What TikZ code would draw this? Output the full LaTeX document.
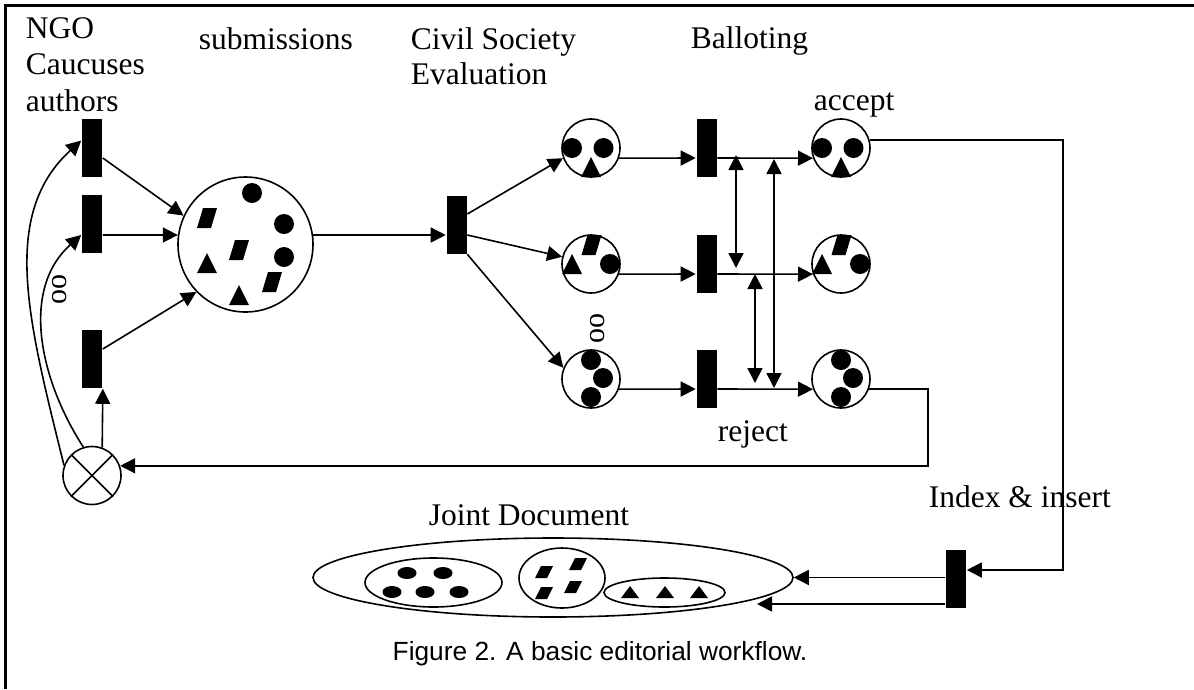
\documentclass[tikz,border=0pt]{standalone}
\usepackage{fontspec}
\setmainfont{Liberation Serif}
\newfontfamily\capfont{Liberation Sans}
\usetikzlibrary{arrows.meta,calc,shapes.geometric}
\newcommand\tokdot[2]{\fill (#1,#2) circle[radius=10pt];}
\newcommand\toktri[2]{\fill (#1-10,#2+10) -- (#1+10,#2+10) -- (#1,#2-10) -- cycle;}
\newcommand\tokpara[2]{\fill (#1-4,#2-10) -- (#1+10,#2-10) -- (#1+4,#2+10) -- (#1-10,#2+10) -- cycle;}
\newcommand\sdot[2]{\fill (#1,#2) ellipse[x radius=9.5pt,y radius=6pt];}
\newcommand\stri[2]{\fill (#1-9,#2+6) -- (#1+9,#2+6) -- (#1,#2-6) -- cycle;}
\newcommand\spara[2]{\fill (#1-3,#2-6) -- (#1+9,#2-6) -- (#1+3,#2+6) -- (#1-9,#2+6) -- cycle;}
\begin{document}
\begin{tikzpicture}[x=1pt,y=-1pt,line width=1.6pt,
  arr/.style={-{Triangle[length=15pt,width=15pt]}},
  darr/.style={{Triangle[length=15pt,width=15pt]}-{Triangle[length=15pt,width=15pt]}},
  bar/.style={rectangle,fill=black,draw=none,minimum width=20pt,minimum height=58pt,inner sep=0pt},
  place/.style={circle,draw,minimum size=58pt,inner sep=0pt},
  lbl/.style={font=\fontsize{31.5}{37}\selectfont,inner sep=0pt,anchor=base west},
  dots/.style={font=\fontsize{30}{30}\selectfont,inner sep=0pt,rotate=90}]
\useasboundingbox (0,0) rectangle (1194,689);
% frame
\draw[line width=3pt] (5,689) -- (5,5) -- (1194,5);
% labels
\node[lbl] (lngo) at (25,38) {NGO};
\node[lbl] (lcau) at (25,74) {Caucuses};
\node[lbl] (laut) at (25,111) {authors};
\node[lbl] (lsub) at (198,49) {submissions};
\node[lbl] (lciv) at (410,49) {Civil Society};
\node[lbl] (leva) at (410,84) {Evaluation};
\node[lbl] (lbal) at (690,48) {Balloting};
\node[lbl] (lacc) at (813,110) {accept};
\node[lbl] (lrej) at (717,441) {reject};
\node[lbl] (lidx) at (928,507) {Index \& insert};
\node[lbl] (ljd) at (428,525) {Joint Document};
\node[font=\capfont\fontsize{26.3}{30}\selectfont,inner sep=0pt,anchor=base] (cap) at (600,660) {Figure 2. A basic editorial workflow.};
\node[dots] (oo1) at (60,289) {oo};
\node[dots] (oo2) at (598,328) {oo};
% nodes
\node[bar] (T1) at (92,147.5) {};
\node[bar] (T2) at (92,224) {};
\node[bar] (T3) at (92,359) {};
\node[circle,draw,minimum size=135pt,inner sep=0pt] (S) at (245.5,244.5) {};
\node[bar] (T4) at (456.5,224.5) {};
\node[place] (P1) at (591,148) {};
\node[place] (P2) at (591,264) {};
\node[place] (P3) at (591,379) {};
\node[bar] (T5) at (706.5,148) {};
\node[bar] (T6) at (706.5,264) {};
\node[bar] (T7) at (706.5,379) {};
\node[place] (P4) at (841,148) {};
\node[place] (P5) at (841,264) {};
\node[place] (P6) at (841,379) {};
\node[bar] (T8) at (956,579) {};
\node[circle,draw,minimum size=58pt,inner sep=0pt] (X) at (92,475.5) {};
\draw (X.45) -- (X.225) (X.135) -- (X.315);
\node[ellipse,draw,minimum width=480pt,minimum height=79pt,inner sep=0pt] (JD) at (553,577.5) {};
\node[ellipse,draw,minimum width=137pt,minimum height=49pt,inner sep=0pt] (E1) at (433.5,582.5) {};
\node[ellipse,draw,minimum width=86pt,minimum height=60pt,inner sep=0pt] (E2) at (562,578) {};
\node[ellipse,draw,minimum width=121pt,minimum height=29pt,inner sep=0pt] (E3) at (664.5,592.5) {};
% tokens in submissions
\tokdot{252}{193}
\tokpara{207}{218}
\tokdot{284}{224}
\tokpara{239}{250}
\tokdot{284}{257}
\toktri{207}{263}
\tokpara{272}{282}
\toktri{239}{295}
% tokens in places
\foreach \cx in {591,841}{
  \tokdot{\cx-19}{148}\tokdot{\cx+12.5}{148}\toktri{\cx}{167}
  \tokpara{\cx+0.5}{245}\toktri{\cx-19}{264}\tokdot{\cx+19}{264}
  \tokdot{\cx}{360}\tokdot{\cx+12}{378}\tokdot{\cx}{397}
}
% joint document tokens
\sdot{407}{573}\sdot{443}{573}\sdot{392}{592}\sdot{425}{592}\sdot{459}{592}
\spara{544}{572}\spara{578}{564}\spara{544}{593}\spara{573}{587}
\stri{630}{592}\stri{665}{592}\stri{699}{592}
% connectors
\draw[arr] ($(T1.east)+(0,10.5)$) -- (S.155);
\draw[arr] ($(T2.east)+(0,11)$) -- (S.172);
\draw[arr] ($(T3.east)+(0,-10)$) -- (S.224);
\draw[arr] (S.8) -- ($(T4.west)+(0,10.5)$);
\draw[arr] ($(T4.east)+(0,-10.5)$) -- (P1.200);
\draw[arr] ($(T4.east)+(0,10.5)$) -- (P2.166);
\draw[arr] (T4.south east) -- (P3.158);
\draw[arr] (P1.-20) -- ($(T5.west)+(0,10)$);
\draw[arr] (P2.-20) -- ($(T6.west)+(0,10)$);
\draw[arr] (P3.-20) -- ($(T7.west)+(0,10)$);
\draw[arr] ($(T5.east)+(0,10)$) -- (P4.200);
\draw[arr] ($(T6.east)+(0,10)$) -- (P5.200);
\draw[arr] ($(T7.east)+(0,10)$) -- (P6.200);
\coordinate (a1t) at (736,155); \coordinate (a1b) at (736,268);
\coordinate (a2t) at (774,159); \coordinate (a2b) at (774,388);
\coordinate (a3t) at (755,274); \coordinate (a3b) at (755,383);
\draw[darr] (a1t) -- (a1b);
\draw[darr] (a2t) -- (a2b);
\draw[darr] (a3t) -- (a3b);
\draw[arr] (P4.15) -| ($(T8.east)+(96,-9)$) -- ($(T8.east)+(0,-9)$);
\draw[arr] (P6.-20) -| ($(X.19)+(808,0)$) -- (X.19);
\draw[arr] (X.70) -- (T3.south east);
\draw[arr] (X.107) .. controls (40,380) and (20,290) .. ($(T2.west)+(0,11)$);
\draw[arr] (X.160) .. controls (28,320) and (0,215) .. ($(T1.west)+(0,-7)$);
\draw[arr] (T8.west |- JD.east) -- (JD.east);
\coordinate (jdlow) at (757,604);
\draw[arr] ($(T8.west)+(0,25)$) -- (jdlow);
\end{tikzpicture}
\end{document}
